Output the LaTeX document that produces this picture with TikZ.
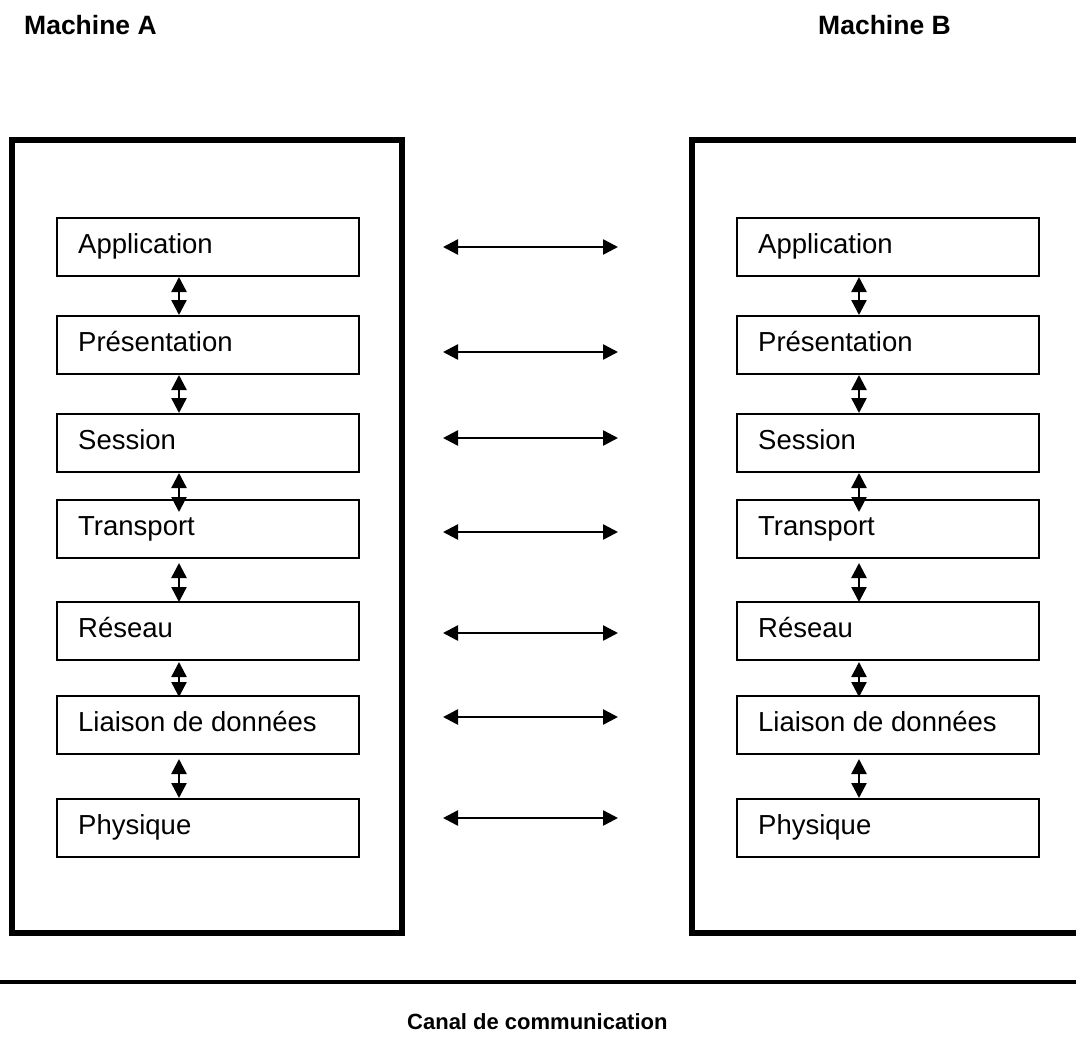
\documentclass[tikz,border=0pt]{standalone}
\usepackage{fontspec}
\setmainfont{Liberation Sans}
\usetikzlibrary{arrows.meta}
\begin{document}
\begin{tikzpicture}[x=1pt,y=-1pt,
  machine/.style={draw, line width=6pt, inner sep=0pt, outer sep=0pt,
    minimum height=793.5pt, anchor=north west},
  layer/.style={draw, line width=1.3pt, inner sep=0pt, outer sep=0pt,
    minimum width=302pt, minimum height=58pt, anchor=north west},
  lbl/.style={anchor=base west, inner sep=0pt, font=\fontsize{27.5}{32}\selectfont},
  title/.style={anchor=base west, inner sep=0pt, font=\bfseries\fontsize{26.5}{30}\selectfont},
  tip/.tip={Triangle[length=15pt,width=15pt]},
  link/.style={line width=2.5pt, tip-tip}]
  \useasboundingbox (0,0) rectangle (1076,1050);
  \clip (0,0) rectangle (1076,1050);

  % machine titles
  \node[title] (titleA) at (24,34) {Machine A};
  \node[title] (titleB) at (818,34) {Machine B};

  % machine frames (the right one runs past the edge)
  \node[machine, minimum width=390.5pt] (MA) at (11.5,139.5) {};
  \node[machine, minimum width=420pt] (MB) at (691.5,139.5) {};

  % the seven layers of each stack
  \foreach \i/\t/\txt in {1/218/Application, 2/316/Présentation, 3/414/Session,
      4/500/Transport, 5/602/Réseau, 6/696/Liaison de données, 7/799/Physique} {
    \node[layer] (LA\i) at (57,\t) {};
    \node[lbl] (TA\i) at (78,\t+35) {\txt};
    \node[layer] (LB\i) at (737,\t) {};
    \node[lbl] (TB\i) at (758,\t+35) {\txt};
  }

  % links between adjacent layers inside each machine
  \foreach \i/\j/\a/\b in {1/2/1/-1, 2/3/1/-1, 3/4/1/12, 4/5/5/0, 5/6/2/1, 6/7/5/-1} {
    \draw[link] ([shift={(122,\a)}]LA\i.south west) -- ([shift={(122,\b)}]LA\j.north west);
    \draw[link] ([shift={(122,\a)}]LB\i.south west) -- ([shift={(122,\b)}]LB\j.north west);
  }

  % peer-to-peer links between the two stacks
  \foreach \i/\d in {1/29, 2/36, 3/24, 4/32, 5/31, 6/21, 7/19} {
    \draw[link] ([shift={(84,\d)}]LA\i.north east) -- ([shift={(-119,\d)}]LB\i.north west);
  }

  % communication channel
  \coordinate (chanL) at (0,982);
  \coordinate (chanR) at (1076,982);
  \draw[line width=4pt] (chanL) -- (chanR);
  \node[title, font=\bfseries\fontsize{22}{26}\selectfont] (chan) at (407,1029) {Canal de communication};
\end{tikzpicture}
\end{document}
